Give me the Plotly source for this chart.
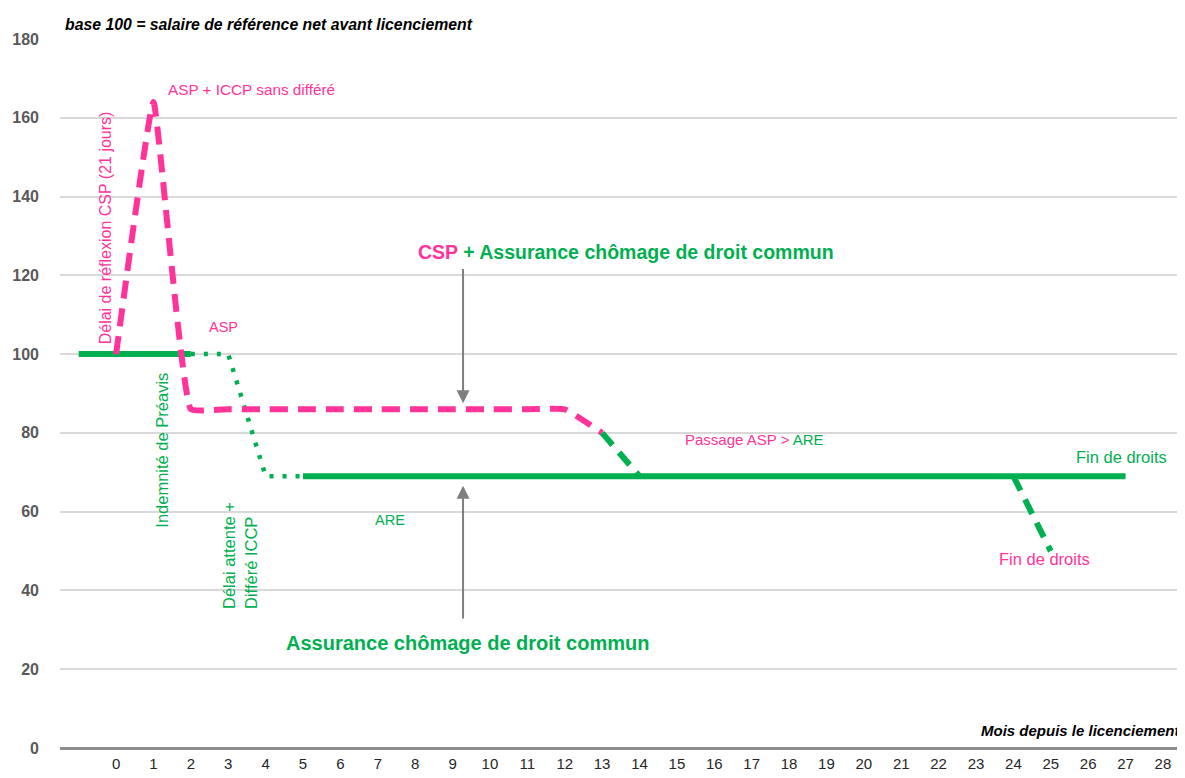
import plotly.graph_objects as go

PINK = "#FF3399"
GREEN = "#00B050"
FONT = "Liberation Sans, Arial, sans-serif"
NARROW = "Liberation Sans Narrow, Arial Narrow, Liberation Sans, sans-serif"

# --- data (months since dismissal, index base 100) ---
green_solid1_x = [-1, 0, 1, 2]
green_solid1_y = [100, 100, 100, 100]
green_dot_x = [2, 3, 4, 5]
green_dot_y = [100, 100, 69, 69]
green_solid2_x = [5, 27]
green_solid2_y = [69, 69]
pink_x = [0, 1, 2, 3, 4, 5, 6, 7, 8, 9, 10, 11, 12, 13]
pink_y = [100, 164, 86, 86, 86, 86, 86, 86, 86, 86, 86, 86, 86, 80]
green_dash1_x = [13, 14]
green_dash1_y = [80, 69]
green_dash2_x = [24, 25]
green_dash2_y = [69, 50]

x_ticks = list(range(0, 29))
y_ticks = [0, 20, 40, 60, 80, 100, 120, 140, 160, 180]

fig = go.Figure()
fig.add_trace(go.Scatter(x=green_dot_x, y=green_dot_y, mode="lines",
                         line=dict(color=GREEN, width=4.5, dash="4px,9px")))
fig.add_trace(go.Scatter(x=green_solid1_x, y=green_solid1_y, mode="lines",
                         line=dict(color=GREEN, width=6)))
fig.add_trace(go.Scatter(x=green_solid2_x, y=green_solid2_y, mode="lines",
                         line=dict(color=GREEN, width=6)))
fig.add_trace(go.Scatter(x=pink_x, y=pink_y, mode="lines",
                         line=dict(color=PINK, width=6, dash="18px,10px",
                                   shape="spline", smoothing=0.3)))
fig.add_trace(go.Scatter(x=green_dash1_x, y=green_dash1_y, mode="lines",
                         line=dict(color=GREEN, width=6, dash="16px,10px")))
fig.add_trace(go.Scatter(x=green_dash2_x, y=green_dash2_y, mode="lines",
                         line=dict(color=GREEN, width=6, dash="16px,10px")))

ann = []
def txt(x, y, s, color, size=14, bold=False, angle=0, align="center"):
    ann.append(dict(x=x, y=y, xref="x", yref="y", text=("<b>%s</b>" % s) if bold else s,
                    showarrow=False, textangle=angle, align=align,
                    font=dict(color=color, size=size, family=FONT)))

txt(3.61, 167.3, "ASP + ICCP sans différé", PINK, size=15.3)
txt(-0.29, 132, "Délai de réflexion CSP (21 jours)", PINK, size=16, angle=-90)
txt(2.86, 107, "ASP", PINK, size=14.5)
txt(1.23, 75.5, "Indemnité de Préavis", GREEN, size=16.5, angle=-90)
txt(3.32, 48.8, "Délai attente +<br>Différé ICCP", GREEN, size=16.5, angle=-90, align="left")
ann.append(dict(x=13.64, y=125.9, xref="x", yref="y", showarrow=False,
                text="<b><span style='color:%s'>CSP</span> + Assurance chômage de droit commun</b>" % PINK,
                font=dict(color=GREEN, size=19.5, family=FONT)))
txt(9.39, 26.7, "Assurance chômage de droit commun", GREEN, size=20, bold=True)
ann.append(dict(x=17.07, y=78.3, xref="x", yref="y", showarrow=False,
                text="Passage ASP &gt; <span style='color:%s'>ARE</span>" % GREEN,
                font=dict(color=PINK, size=15, family=FONT)))
txt(26.88, 74, "Fin de droits", GREEN, size=16.5)
txt(24.82, 48, "Fin de droits", PINK, size=16.5)
txt(7.33, 58, "ARE", GREEN, size=14.5)

# arrows
ann.append(dict(x=9.28, y=87.5, ax=9.28, ay=122, xref="x", yref="y", axref="x", ayref="y",
                showarrow=True, arrowhead=2, arrowsize=1.3, arrowwidth=2, arrowcolor="#7F7F7F", text=""))
ann.append(dict(x=9.28, y=66.6, ax=9.28, ay=32.5, xref="x", yref="y", axref="x", ayref="y",
                showarrow=True, arrowhead=2, arrowsize=1.3, arrowwidth=2, arrowcolor="#7F7F7F", text=""))

ann.append(dict(x=0.0027, y=1.0198, xref="paper", yref="paper", xanchor="left", yanchor="middle",
                showarrow=False, text="<b><i>base 100 = salaire de référence net avant licenciement</i></b>",
                font=dict(color="#000000", size=15.8, family=FONT)))
ann.append(dict(x=0.9973, y=0.024, xref="paper", yref="paper", xanchor="right", yanchor="middle",
                showarrow=False, text="<b><i>Mois depuis le licenciement</i></b>",
                font=dict(color="#000000", size=15, family=FONT)))

# page body has an 8px margin: size the figure so the plot lands where the reference has it
fig.update_layout(
    width=1177, height=770,
    margin=dict(l=52, r=0, t=31, b=30),
    plot_bgcolor="white", paper_bgcolor="white",
    showlegend=False,
    annotations=ann,
    xaxis=dict(range=[-1.5, 28.59], tickvals=x_ticks, ticktext=[str(v) for v in x_ticks],
               showgrid=False, zeroline=False, showline=False, automargin=False,
               tickfont=dict(size=15, color="#262626", family=NARROW), ticklabelstandoff=5),
    yaxis=dict(range=[0, 180], tickvals=y_ticks, ticktext=["<b>%d</b>" % v for v in y_ticks],
               showgrid=True, gridcolor="#D9D9D9", gridwidth=2,
               zeroline=True, zerolinecolor="#8C8C8C", zerolinewidth=3,
               showline=False, automargin=False,
               tickfont=dict(size=16, color="#595959", family=FONT),
               ticklabelstandoff=20),
)

fig.write_html("out.html")
